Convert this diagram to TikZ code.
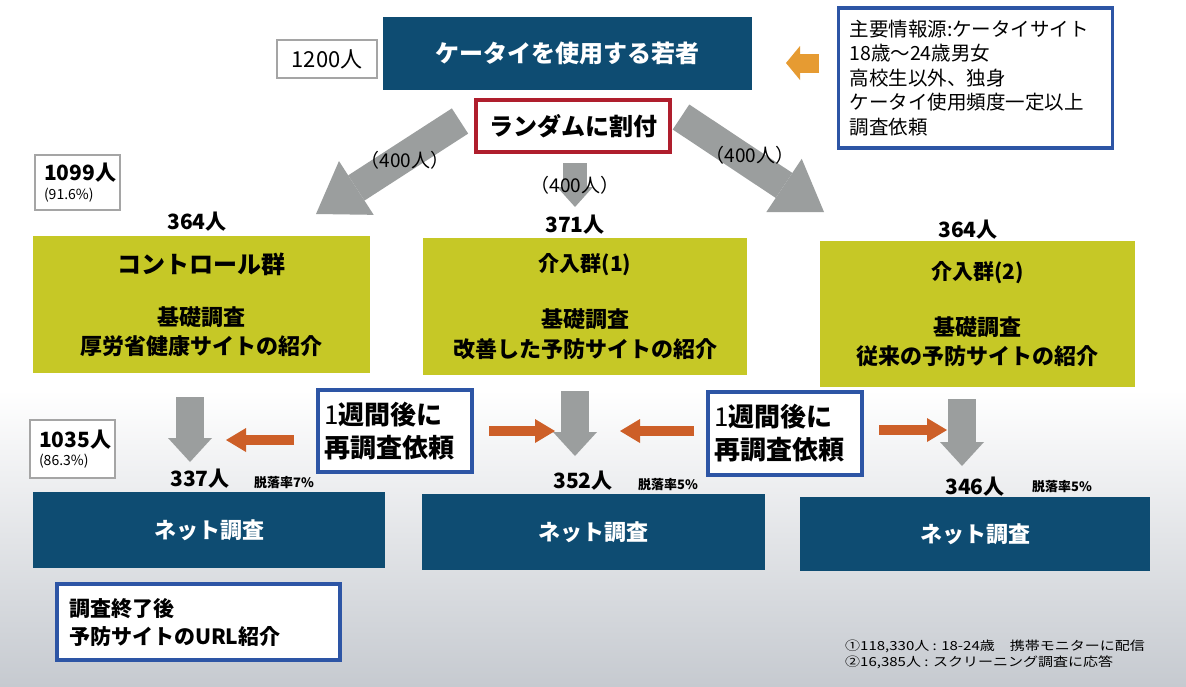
\documentclass[tikz,border=0pt]{standalone}
\usepackage{fontspec}
\setmainfont{Noto Sans CJK JP}
\newfontfamily\condjp[FakeStretch=1.2]{Noto Sans CJK JP}
\usetikzlibrary{arrows.meta}
\definecolor{navy}{RGB}{14,76,114}
\definecolor{ygreen}{RGB}{198,200,38}
\definecolor{bblue}{RGB}{45,85,165}
\definecolor{rred}{RGB}{175,30,45}
\definecolor{agrey}{RGB}{155,158,158}
\definecolor{borange}{RGB}{205,95,40}
\definecolor{lorange}{RGB}{230,155,50}
\definecolor{cgrey}{RGB}{165,165,165}
\definecolor{bggrey}{RGB}{198,202,208}
\newcommand\myfs[2]{\fontsize{#1pt}{#2pt}\selectfont}
\begin{document}
\begin{tikzpicture}[x=1pt,y=-1pt,
  navybox/.style={fill=navy,text=white,inner sep=0pt},
  countbox/.style={draw=cgrey,line width=2.5pt,fill=white,inner sep=0pt},
  greenbox/.style={fill=ygreen,inner sep=0pt,align=center,font=\bfseries},
  bluebox/.style={draw=bblue,line width=3.5pt,fill=white},
  greyarr/.style n args={3}{draw=agrey,line width=#1,-{Triangle[width=#2,length=#3,line width=0pt]}},
  orarr/.style={draw=borange,line width=10pt,-{Triangle[width=24pt,length=20pt,line width=0pt]}},
  lbl/.style={inner sep=0pt},
  cnt/.style={inner sep=0pt,font=\bfseries\myfs{21}{24}},
  drop/.style={inner sep=0pt,font=\bfseries\myfs{13}{15}}
]
\useasboundingbox (0,0) rectangle (1186,686);
\fill[white] (0,0) rectangle (1186,686);
\shade[top color=white,bottom color=bggrey] (0,390) rectangle (1186,686);

% grey split arrows
\coordinate (l0) at (460,121); \coordinate (l1) at (316,214);
\coordinate (c0) at (575,163); \coordinate (c1) at (575,207);
\coordinate (r0) at (681,117); \coordinate (r1) at (824,212);
\draw[greyarr={30pt}{64pt}{48pt}] (l0) -- (l1);
\draw[greyarr={24pt}{36pt}{20pt}] (c0) -- (c1);
\draw[greyarr={30pt}{64pt}{48pt}] (r0) -- (r1);

% top
\node[navybox,minimum width=369pt,minimum height=73pt,font=\bfseries\myfs{24}{30}] (top) at (567.5,53.5) {ケータイを使用する若者};
\node[countbox,minimum width=100pt,minimum height=38pt,font=\myfs{22}{24}] (n1200) at (327,59) {1200人};
\node[bluebox,text width=252pt,inner xsep=11pt,inner ysep=6pt,minimum height=140pt,align=left,font=\myfs{19.5}{24.5}] (info) at (975.5,78) {主要情報源:ケータイサイト\\18歳〜24歳男女\\高校生以外、独身\\ケータイ使用頻度一定以上\\調査依頼};
\coordinate (o0) at (819,63); \coordinate (o1) at (786,63);
\draw[draw=lorange,line width=19pt,-{Triangle[width=34pt,length=14pt,line width=0pt]}] (o0) -- (o1);
\node[draw=rred,line width=3.5pt,fill=white,minimum width=194pt,minimum height=52pt,inner sep=0pt,font=\bfseries\myfs{24}{28}] (rand) at (573,126) {ランダムに割付};

% labels
\node[lbl,font=\myfs{19}{22}] (p1) at (405,160) {（400人）};
\node[lbl,font=\myfs{19}{22}] (p2) at (575,185) {（400人）};
\node[lbl,font=\myfs{19}{22}] (p3) at (750,155) {（400人）};
\node[countbox,text width=67pt,inner xsep=9pt,minimum height=55pt,align=left] (c1099) at (77.5,182.5) {\bfseries\myfs{21}{22}1099人\\[4pt]\mdseries\myfs{14}{15}(91.6\%)};
\node[cnt] (k1) at (197,222) {364人};
\node[cnt] (k2) at (575,225) {371人};
\node[cnt] (k3) at (968,230) {364人};

% green groups
\node[greenbox,minimum width=337pt,minimum height=137pt] (g1) at (201.5,304.5) {\myfs{24}{28}コントロール群\\[30pt]\myfs{22}{29}基礎調査\\[7pt]\myfs{22}{29}厚労省健康サイトの紹介};
\node[greenbox,minimum width=324pt,minimum height=137pt] (g2) at (585,306.5) {\myfs{21}{28}介入群(1)\\[32pt]\myfs{22}{29}基礎調査\\[7pt]\myfs{22}{29}改善した予防サイトの紹介};
\node[greenbox,minimum width=315pt,minimum height=146pt] (g3) at (977.5,314) {\myfs{21}{28}介入群(2)\\[32pt]\myfs{22}{28}基礎調査\\[6pt]\myfs{22}{28}従来の予防サイトの紹介};

% down arrows
\coordinate (d1a) at (190,397); \coordinate (d1b) at (190,462);
\coordinate (d2a) at (575,391); \coordinate (d2b) at (575,456);
\coordinate (d3a) at (962,399); \coordinate (d3b) at (962,466);
\draw[greyarr={28pt}{44pt}{24pt}] (d1a) -- (d1b);
\draw[greyarr={28pt}{44pt}{24pt}] (d2a) -- (d2b);
\draw[greyarr={28pt}{44pt}{24pt}] (d3a) -- (d3b);

% one week boxes
\node[bluebox,text width=142pt,inner xsep=6pt,minimum height=82pt,align=left,font=\bfseries\myfs{26}{33}] (w1) at (395,431) {{\mdseries 1}週間後に\\再調査依頼};
\node[bluebox,text width=142pt,inner xsep=6pt,minimum height=83pt,align=left,font=\bfseries\myfs{26}{33}] (w2) at (785,433.5) {{\mdseries 1}週間後に\\再調査依頼};
\coordinate (a1) at (294,440); \coordinate (a2) at (226,440);
\coordinate (b1) at (489,431); \coordinate (b2) at (555,431);
\coordinate (e1) at (694,431); \coordinate (e2) at (620,431);
\coordinate (f1) at (879,430); \coordinate (f2) at (947,430);
\draw[orarr] (a1) -- (a2);
\draw[orarr] (b1) -- (b2);
\draw[orarr] (e1) -- (e2);
\draw[orarr] (f1) -- (f2);

\node[countbox,text width=67pt,inner xsep=9pt,minimum height=58pt,align=left] (c1035) at (72.5,449) {\bfseries\myfs{21}{22}1035人\\[4pt]\mdseries\myfs{14}{15}(86.3\%)};
\node[cnt] (m1) at (200,479) {337人};
\node[drop] (q1) at (284,483) {脱落率7\%};
\node[cnt] (m2) at (583,481) {352人};
\node[drop] (q2) at (668,485) {脱落率5\%};
\node[cnt] (m3) at (975,487) {346人};
\node[drop] (q3) at (1062,487) {脱落率5\%};

% net surveys
\node[navybox,minimum width=352pt,minimum height=76pt,font=\bfseries\myfs{22}{26}] (net1) at (209,530) {ネット調査};
\node[navybox,minimum width=343pt,minimum height=76pt,font=\bfseries\myfs{22}{26}] (net2) at (593.5,532) {ネット調査};
\node[navybox,minimum width=350pt,minimum height=74pt,font=\bfseries\myfs{22}{26}] (net3) at (975,534) {ネット調査};

\node[bluebox,text width=259pt,inner xsep=12pt,minimum height=76pt,align=left,font=\bfseries\myfs{21}{28}] (url) at (198.5,622) {調査終了後\\予防サイトのURL紹介};

\node[lbl,anchor=north west,align=left,font=\condjp\myfs{12.5}{15.5}] (foot) at (845,640) {①118,330人 : 18-24歳　携帯モニターに配信\\②16,385人 : スクリーニング調査に応答};
\end{tikzpicture}
\end{document}
